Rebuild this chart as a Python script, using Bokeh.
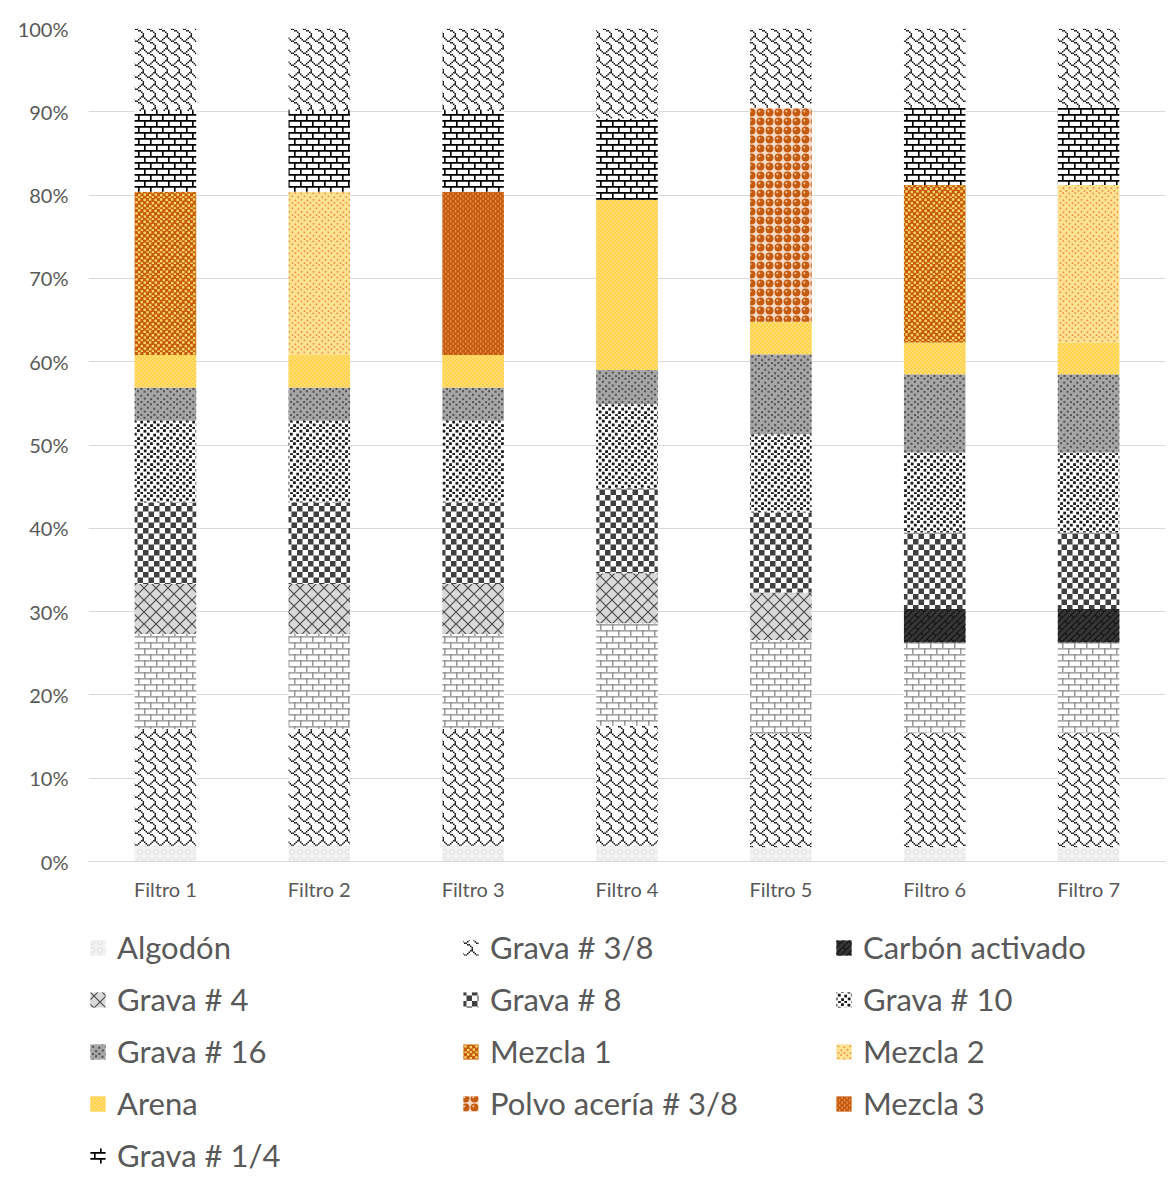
from bokeh.plotting import figure
from bokeh.layouts import column
from bokeh.models import (ColumnDataSource, FactorRange, Range1d, FixedTicker,
                          PrintfTickFormatter, Legend, LegendItem, CanvasTexture)
from bokeh.core.properties import value
from bokeh.embed import file_html
from bokeh.resources import INLINE

# Composición de cada filtro (% del espesor total), de abajo hacia arriba
filtros = ["Filtro 1", "Filtro 2", "Filtro 3", "Filtro 4", "Filtro 5", "Filtro 6", "Filtro 7"]

algodon        = [1.9, 1.9, 1.9, 1.9, 1.7, 1.7, 1.7]
grava_38_inf   = [14.0, 14.0, 14.0, 14.4, 13.6, 13.8, 13.8]
grava_14_inf   = [11.4, 11.4, 11.4, 12.3, 11.3, 10.8, 10.8]
carbon         = [0.0, 0.0, 0.0, 0.0, 0.0, 4.0, 4.0]
grava_4        = [6.0, 6.0, 6.0, 6.0, 5.7, 0.0, 0.0]
grava_8        = [9.8, 9.8, 9.8, 10.2, 9.6, 9.2, 9.2]
grava_10       = [9.8, 9.8, 9.8, 10.1, 9.4, 9.6, 9.6]
grava_16       = [4.0, 4.0, 4.0, 4.1, 9.6, 9.4, 9.4]
arena          = [3.9, 3.9, 3.9, 20.4, 3.9, 3.8, 3.8]
mezcla_1       = [19.6, 0.0, 0.0, 0.0, 0.0, 18.9, 0.0]
mezcla_2       = [0.0, 19.6, 0.0, 0.0, 0.0, 0.0, 18.9]
mezcla_3       = [0.0, 0.0, 19.6, 0.0, 0.0, 0.0, 0.0]
polvo_aceria   = [0.0, 0.0, 0.0, 0.0, 25.7, 0.0, 0.0]
grava_14       = [9.7, 9.7, 9.7, 9.8, 0.0, 9.3, 9.3]
grava_38_sup   = [9.9, 9.9, 9.9, 10.8, 9.5, 9.5, 9.5]

y_ticks = [0, 10, 20, 30, 40, 50, 60, 70, 80, 90, 100]

source = ColumnDataSource(dict(
    filtro=filtros, algodon=algodon, grava_38_inf=grava_38_inf, grava_14_inf=grava_14_inf,
    carbon=carbon, grava_4=grava_4, grava_8=grava_8, grava_10=grava_10, grava_16=grava_16,
    arena=arena, mezcla_1=mezcla_1, mezcla_2=mezcla_2, mezcla_3=mezcla_3,
    polvo_aceria=polvo_aceria, grava_14=grava_14, grava_38_sup=grava_38_sup,
))

# --- Texturas de relleno: cada una dibuja su propia tesela de s x s px ---
BRICK = """
ctx.strokeStyle = '$C'; ctx.lineWidth = $W;
const h = s / 2;
ctx.beginPath();
ctx.moveTo(0, 0.8); ctx.lineTo(s, 0.8);
ctx.moveTo(0, h + 0.8); ctx.lineTo(s, h + 0.8);
ctx.moveTo(0.8, 0); ctx.lineTo(0.8, h);
ctx.moveTo(h + 0.8, h); ctx.lineTo(h + 0.8, s);
ctx.stroke();
"""

# teja: mapa de bits 8x8 escalado a la tesela
SHINGLE = """
ctx.fillStyle = '$C';
const rows = [0x03, 0x84, 0x48, 0x30, 0x0c, 0x02, 0x01, 0x01];
const px = s / 8;
for (let y = 0; y < 8; y++) {
  for (let x = 0; x < 8; x++) {
    if (rows[y] & (0x80 >> x)) { ctx.fillRect(x*px, y*px, px, px); }
  }
}
"""

CHECKER = """
const h = s / 2;
ctx.fillStyle = '$C';
ctx.fillRect(0, 0, h, h);
ctx.fillRect(h, h, h, h);
"""

CONFETTI = """
ctx.fillStyle = '$C';
const d = $W;
const pts = [[0.04,0.06],[0.54,0.02],[0.30,0.29],[0.79,0.36],[0.06,0.58],[0.55,0.63],[0.31,0.86],[0.80,0.84]];
for (const [u, v] of pts) { ctx.fillRect(u*s, v*s, d, d); }
"""

DASHES = """
ctx.fillStyle = '$C';
const h = s / 2;
ctx.fillRect(0, 0, $W, h);
ctx.fillRect(h, h, $W, h);
"""

SPHERES = """
ctx.fillStyle = '$C';
ctx.beginPath(); ctx.arc(s/2, s/2, s*0.44, 0, 2*Math.PI); ctx.fill();
ctx.fillStyle = 'rgba(250,205,160,0.95)';
ctx.beginPath(); ctx.arc(s*0.37, s*0.37, s*0.12, 0, 2*Math.PI); ctx.fill();
"""

RINGS = """
ctx.strokeStyle = '$C'; ctx.lineWidth = $W;
ctx.beginPath(); ctx.arc(s/2, s/2, s*0.32, 0, 2*Math.PI); ctx.stroke();
"""

DIAMONDS = """
ctx.strokeStyle = '$C'; ctx.lineWidth = $W;
ctx.beginPath();
ctx.moveTo(-1, -1); ctx.lineTo(s + 1, s + 1);
ctx.moveTo(-1, s + 1); ctx.lineTo(s + 1, -1);
ctx.stroke();
"""

DIAG_BRICK = """
ctx.strokeStyle = '$C'; ctx.lineWidth = $W;
const h = s / 2;
ctx.beginPath();
ctx.moveTo(-1, h + 1); ctx.lineTo(h + 1, -1);
ctx.moveTo(-1, s + 1); ctx.lineTo(s + 1, -1);
ctx.moveTo(h - 1, s + 1); ctx.lineTo(s + 1, h - 1);
ctx.moveTo(h*0.5, h*0.5); ctx.lineTo(h, h);
ctx.moveTo(h*1.5, h*1.5); ctx.lineTo(s, s);
ctx.stroke();
"""


def texture(body, size, color, weight=1.0):
    code = (f"ctx.canvas.width = {size}; ctx.canvas.height = {size};\n"
            f"const s = {size};\n"
            + body.replace("$C", color).replace("$W", str(weight)))
    return CanvasTexture(code=code)


# capa: (columna, relleno, textura)
layers = [
    ("algodon",      "#f2f2f2", texture(RINGS, 8, "#e2e2e2", 1.0)),
    ("grava_38_inf", "#ffffff", texture(SHINGLE, 12, "#111111")),
    ("grava_14_inf", "#ffffff", texture(BRICK, 12, "#8a8a8a", 1.3)),
    ("carbon",       "#363636", texture(DIAG_BRICK, 12, "#141414", 1.2)),
    ("grava_4",      "#d9d9d9", texture(DIAMONDS, 12, "#4d4d4d", 1.2)),
    ("grava_8",      "#ffffff", texture(CHECKER, 11, "#404040")),
    ("grava_10",     "#ffffff", texture(CONFETTI, 13, "#1a1a1a", 2.8)),
    ("grava_16",     "#a6a6a6", texture(CONFETTI, 13, "#505050", 2.0)),
    ("arena",        "#ffd24a", texture(CHECKER, 4, "#ffdd75")),
    ("mezcla_1",     "#c55a11", texture(CONFETTI, 11, "#ffd966", 2.4)),
    ("mezcla_2",     "#ffe394", texture(CONFETTI, 12, "#ee8a3a", 1.6)),
    ("mezcla_3",     "#c55a11", texture(DASHES, 5, "#e9904a", 1.2)),
    ("polvo_aceria", "#f6dcc8", texture(SPHERES, 9, "#c55a11")),
    ("grava_14",     "#ffffff", texture(BRICK, 12, "#000000", 1.7)),
    ("grava_38_sup", "#ffffff", texture(SHINGLE, 12, "#111111")),
]
style = {key: dict(fill_color=fill, hatch_pattern=value(key), hatch_extra={key: tex})
         for key, fill, tex in layers}

# --- Gráfico de barras apiladas ---
p = figure(
    x_range=FactorRange(*filtros, range_padding=0),
    y_range=Range1d(0, 100),
    frame_width=1077, frame_height=833,
    min_border_left=88, min_border_right=10, min_border_top=28, min_border_bottom=45,
    output_backend="svg", toolbar_location=None,
    background_fill_color="#ffffff", border_fill_color="#ffffff",
)

keys = [l[0] for l in layers]
p.vbar_stack(
    keys, x="filtro", width=0.4, source=source, line_color=None,
    fill_color=[style[k]["fill_color"] for k in keys],
    hatch_pattern=[style[k]["hatch_pattern"] for k in keys],
    hatch_extra={k: t for k, _, t in layers},
)

p.yaxis.ticker = FixedTicker(ticks=y_ticks)
p.yaxis.formatter = PrintfTickFormatter(format="%d%%")
p.yaxis.axis_line_color = None
p.yaxis.major_tick_line_color = None
p.yaxis.minor_tick_line_color = None
p.yaxis.major_label_standoff = 14
p.yaxis.major_label_text_font = "Lato"
p.yaxis.major_label_text_font_size = "20px"
p.yaxis.major_label_text_color = "#595959"

p.xaxis.axis_line_color = "#d9d9d9"
p.xaxis.major_tick_line_color = None
p.xaxis.minor_tick_line_color = None
p.xaxis.major_label_standoff = 9
p.xaxis.major_label_text_font = "Lato"
p.xaxis.major_label_text_font_size = "20px"
p.xaxis.major_label_text_color = "#595959"

p.xgrid.grid_line_color = None
p.ygrid.grid_line_color = "#d9d9d9"
p.ygrid.grid_line_width = 1
p.outline_line_color = None

# --- Leyenda (panel inferior) ---
legend_entries = [
    ("Algodón", "algodon"), ("Grava # 3/8", "grava_38_inf"), ("Carbón activado", "carbon"),
    ("Grava # 4", "grava_4"), ("Grava # 8", "grava_8"), ("Grava # 10", "grava_10"),
    ("Grava # 16", "grava_16"), ("Mezcla 1", "mezcla_1"), ("Mezcla 2", "mezcla_2"),
    ("Arena", "arena"), ("Polvo acería # 3/8", "polvo_aceria"), ("Mezcla 3", "mezcla_3"),
    ("Grava # 1/4", "grava_14"),
]

q = figure(
    width=1175, height=276, x_axis_type=None, y_axis_type=None,
    x_range=Range1d(0, 1), y_range=Range1d(0, 1),
    min_border=0, output_backend="svg", toolbar_location=None,
    background_fill_color="#ffffff", border_fill_color="#ffffff",
)
q.grid.visible = False
q.outline_line_color = None

# muestras de leyenda: barras de altura nula, solo sirven para el símbolo
items = []
for label, key in legend_entries:
    swatch = q.vbar(x=[0.5], bottom=[0], top=[0], width=0.01, line_color=None, **style[key])
    items.append(LegendItem(label=label, renderers=[swatch]))

legend = Legend(
    items=items, orientation="horizontal", ncols=3, location=(0, 8),
    glyph_width=19, glyph_height=19, label_standoff=10, label_width=330, label_height=37,
    spacing=14, padding=0, margin=0,
    label_text_font="Lato", label_text_font_size="31px", label_text_color="#595959",
    border_line_color=None, background_fill_alpha=0,
)
q.add_layout(legend, "center")

open("out.html", "w").write(file_html(column(p, q, spacing=0), INLINE))
